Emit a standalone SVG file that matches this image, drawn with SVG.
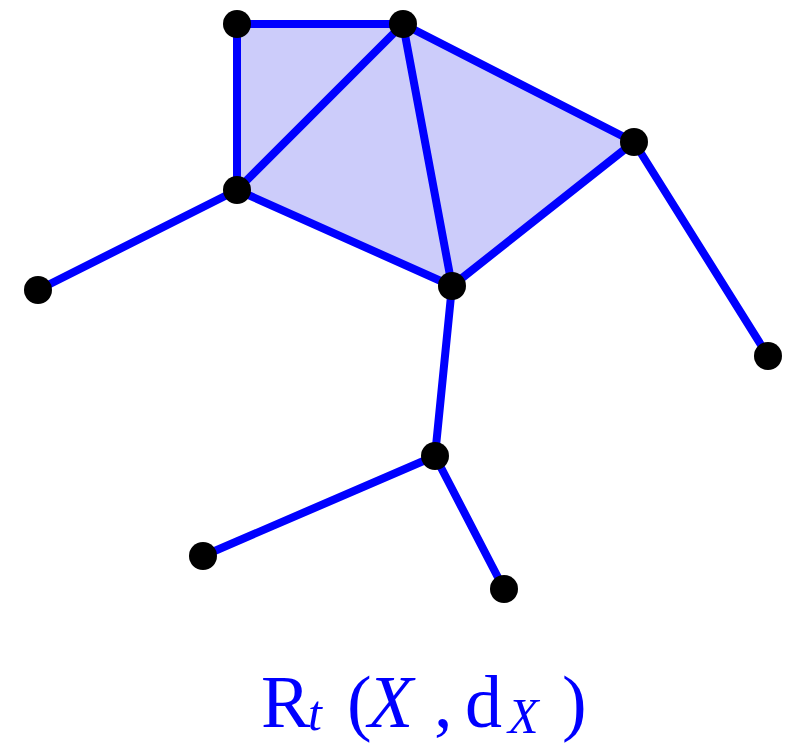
<svg xmlns="http://www.w3.org/2000/svg" width="791" height="743" viewBox="0 0 791 743">
<style>
.e{stroke:#0000ff;stroke-width:8;fill:none;stroke-linecap:round}
.n{fill:#000}
.lbl{font-family:"Liberation Serif","DejaVu Serif",serif;fill:#0000ff;font-size:74px}
.it{font-style:italic}
.sub{font-size:50px}
</style>
<rect width="791" height="743" fill="#fff"/>
<polygon points="237,24 403,24 634,142 452,286 237,190" fill="#ccccfa"/>
<g id="connectors">
<line class="e" x1="237" y1="24" x2="403" y2="24"/>
<line class="e" x1="237" y1="24" x2="237" y2="190"/>
<line class="e" x1="237" y1="190" x2="403" y2="24"/>
<line class="e" x1="403" y1="24" x2="452" y2="286"/>
<line class="e" x1="403" y1="24" x2="634" y2="142"/>
<line class="e" x1="634" y1="142" x2="452" y2="286"/>
<line class="e" x1="237" y1="190" x2="452" y2="286"/>
<line class="e" x1="237" y1="190" x2="38" y2="290"/>
<line class="e" x1="634" y1="142" x2="768" y2="356"/>
<line class="e" x1="452" y1="286" x2="435" y2="456"/>
<line class="e" x1="435" y1="456" x2="203" y2="556"/>
<line class="e" x1="435" y1="456" x2="504" y2="589"/>
</g>
<g id="n1"><circle class="n" cx="237" cy="24" r="14"/></g>
<g id="n2"><circle class="n" cx="403" cy="24" r="14"/></g>
<g id="n3"><circle class="n" cx="634" cy="142" r="14"/></g>
<g id="n4"><circle class="n" cx="237" cy="190" r="14"/></g>
<g id="n5"><circle class="n" cx="38" cy="290" r="14"/></g>
<g id="n6"><circle class="n" cx="452" cy="286" r="14"/></g>
<g id="n7"><circle class="n" cx="768" cy="356" r="14"/></g>
<g id="n8"><circle class="n" cx="435" cy="456" r="14"/></g>
<g id="n9"><circle class="n" cx="203" cy="556" r="14"/></g>
<g id="n10"><circle class="n" cx="504" cy="589" r="14"/></g>
<g id="label">
<text class="lbl" y="727"><tspan x="261">R</tspan><tspan class="it sub" x="308" y="730">t</tspan><tspan x="347" y="727">(</tspan><tspan class="it" x="368">X</tspan><tspan x="434">,</tspan><tspan x="465">d</tspan><tspan class="it sub" x="508" y="733">X</tspan><tspan x="562" y="727">)</tspan></text>
</g>
</svg>
